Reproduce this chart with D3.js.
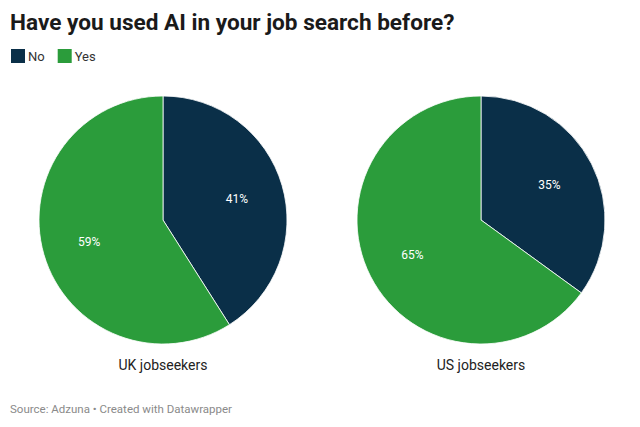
<!DOCTYPE html>
<html><head><meta charset="utf-8">
<script src="https://cdn.jsdelivr.net/npm/d3@7"></script>
<style>body{margin:0;background:#fff;font-family:Roboto,"Noto Sans",sans-serif;}</style>
</head><body><svg id="c" width="640" height="427"></svg>
<script>
const categories = ["No", "Yes"];
const colors = ["#0a2f48", "#2b9c3b"];
const groups = ["UK jobseekers", "US jobseekers"];
const ukValues = [41, 59];
const usValues = [35, 65];
const seriesValues = [ukValues, usValues];

const svg = d3.select("#c");
svg.append("text").attr("x", 10).attr("y", 30).attr("font-size", 22.6).attr("font-weight", 700)
  .attr("fill", "#1a1a1a").text("Have you used AI in your job search before?");

const color = d3.scaleOrdinal().domain(categories).range(colors);
const leg = svg.append("g");
let lx = 11;
categories.forEach((c) => {
  leg.append("rect").attr("x", lx).attr("y", 49).attr("width", 14).attr("height", 14).attr("fill", color(c));
  const t = leg.append("text").attr("x", lx + 17).attr("y", 60.5).attr("font-size", 13).attr("fill", "#333").text(c);
  lx += 17 + t.node().getComputedTextLength() + 13;
});

const cx = d3.scalePoint().domain(groups).range([163, 481]);
const r = 124, cy = 220;
const pie = d3.pie().sort(null);
const arc = d3.arc().innerRadius(0).outerRadius(r);
const lab = d3.arc().innerRadius(r * 0.62).outerRadius(r * 0.62);

groups.forEach((g, i) => {
  const gg = svg.append("g").attr("transform", `translate(${cx(g)},${cy})`);
  const arcs = pie(seriesValues[i]);
  gg.selectAll("path").data(arcs).join("path").attr("d", arc)
    .attr("fill", (d, j) => color(categories[j])).attr("stroke", "#fff").attr("stroke-width", 0.8);
  gg.selectAll("text.v").data(arcs).join("text").attr("class", "v")
    .attr("transform", d => `translate(${lab.centroid(d)})`)
    .attr("text-anchor", "middle").attr("dy", "0.35em").attr("font-size", 12).attr("fill", "#fff")
    .text(d => d.data + "%");
  svg.append("text").attr("x", cx(g)).attr("y", 370).attr("text-anchor", "middle")
    .attr("font-size", 14).attr("fill", "#222").text(g);
});

svg.append("text").attr("x", 10).attr("y", 413).attr("font-size", 11.5).attr("fill", "#8a8a8a")
  .text("Source: Adzuna • Created with Datawrapper");
</script></body></html>
